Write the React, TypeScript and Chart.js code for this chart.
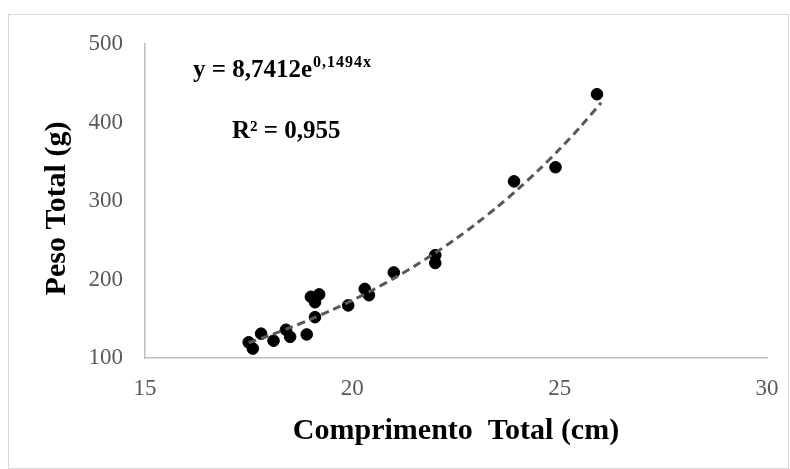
import React, { useEffect, useRef } from "react";
import { Chart, registerables } from "chart.js";

Chart.register(...registerables);

// Observed data: Comprimento Total (cm) vs Peso Total (g)
const lengthCm: number[] = [17.5, 17.6, 17.8, 18.1, 18.4, 18.5, 18.9, 19.0, 19.2, 19.1, 19.1, 19.9, 20.3, 20.4, 21.0, 22.0, 22.0, 23.9, 24.9, 25.9];
const weightG: number[] = [120, 112, 131, 122, 136, 127, 130, 178, 181, 171, 152, 167, 188, 180, 209, 231, 221, 325, 343, 436];

// Exponential trendline coefficients shown on the chart
const trendA = 8.7412;
const trendB = 0.1494;
const trendXs: number[] = [17.5, 18, 18.5, 19, 19.5, 20, 20.5, 21, 21.5, 22, 22.5, 23, 23.5, 24, 24.5, 25, 25.5, 26];

const xTicks: number[] = [15, 20, 25, 30];
const yTicks: number[] = [100, 200, 300, 400, 500];

const xTitle = "Comprimento  Total (cm)";
const yTitle = "Peso Total (g)";
const eqMain = "y = 8,7412e";
const eqExp = "0,1494x";
const r2Text = "R² = 0,955";

const SERIF = "'Liberation Serif', 'Times New Roman', serif";

export default function App() {
  const ref = useRef<HTMLCanvasElement | null>(null);

  useEffect(() => {
    document.body.style.margin = "0";
    const canvas = ref.current;
    if (!canvas) return;

    const frame = {
      id: "frameAndText",
      beforeDraw(chart: any) {
        const ctx = chart.ctx;
        ctx.save();
        ctx.fillStyle = "#ffffff";
        ctx.fillRect(0, 0, chart.width, chart.height);
        ctx.strokeStyle = "#d9d9d9";
        ctx.lineWidth = 1;
        ctx.strokeRect(8.5, 14.5, 780, 454);
        ctx.restore();
      },
      afterDraw(chart: any) {
        const ctx = chart.ctx;
        ctx.save();
        ctx.fillStyle = "#000000";
        ctx.textBaseline = "alphabetic";
        ctx.textAlign = "left";
        ctx.font = `bold 25px ${SERIF}`;
        ctx.fillText(eqMain, 193, 77);
        const w = ctx.measureText(eqMain).width;
        ctx.font = `bold 16px ${SERIF}`;
        (ctx as any).letterSpacing = "1px";
        ctx.fillText(eqExp, 193 + w + 1, 67);
        (ctx as any).letterSpacing = "0px";
        ctx.font = `bold 25px ${SERIF}`;
        ctx.fillText(r2Text, 232, 138);
        ctx.restore();
      },
    };

    const chart = new Chart(canvas, {
      type: "scatter",
      data: {
        datasets: [
          {
            type: "line",
            label: "Tendência",
            data: trendXs.map((x) => ({ x, y: trendA * Math.exp(trendB * x) })),
            borderColor: "#595959",
            borderWidth: 3,
            borderDash: [8, 5],
            pointRadius: 0,
            fill: false,
            tension: 0.3,
          } as any,
          {
            label: "Peso",
            data: lengthCm.map((x, i) => ({ x, y: weightG[i] })),
            backgroundColor: "#000000",
            borderColor: "#000000",
            pointRadius: 5.8,
            pointBorderWidth: 1,
          },
        ],
      },
      options: {
        responsive: false,
        animation: false,
        layout: { padding: { left: 35, right: 23, top: 44, bottom: 16 } },
        plugins: { legend: { display: false }, tooltip: { enabled: false } },
        scales: {
          x: {
            type: "linear",
            min: 15,
            max: 30,
            afterBuildTicks: (s: any) => {
              s.ticks = xTicks.map((v) => ({ value: v }));
            },
            ticks: {
              font: { family: SERIF, size: 23 },
              color: "#595959",
              padding: 17,
            },
            grid: { display: false, drawTicks: false },
            border: { display: true, color: "#bfbfbf", width: 1.5 },
            title: {
              display: true,
              text: xTitle,
              color: "#000000",
              font: { family: SERIF, size: 30, weight: "bold" },
              padding: { top: 4, bottom: 4 },
            },
            afterFit: (s: any) => {
              s.height = 95;
              s.paddingLeft = 0;
              s.paddingRight = 0;
            },
          },
          y: {
            type: "linear",
            min: 100,
            max: 500,
            afterBuildTicks: (s: any) => {
              s.ticks = yTicks.map((v) => ({ value: v }));
            },
            ticks: {
              font: { family: SERIF, size: 23 },
              color: "#595959",
              padding: 22,
            },
            grid: { display: false, drawTicks: false },
            border: { display: true, color: "#bfbfbf", width: 1.5 },
            title: {
              display: true,
              text: yTitle + "  ",
              color: "#000000",
              font: { family: SERIF, size: 30, weight: "bold" },
              padding: { top: 4, bottom: 4 },
            },
            afterFit: (s: any) => {
              s.width = 110;
              s.paddingTop = 0;
              s.paddingBottom = 0;
            },
          },
        },
      },
      plugins: [frame],
    });

    return () => chart.destroy();
  }, []);

  return <canvas ref={ref} width={790} height={469} style={{ display: "block" }} />;
}
